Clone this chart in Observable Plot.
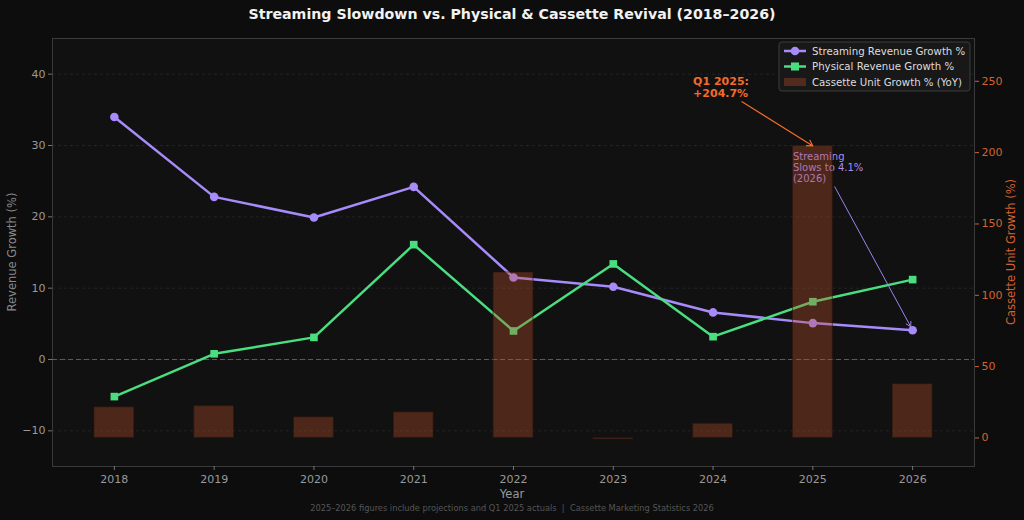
<!DOCTYPE html>
<html>
<head>
<meta charset="utf-8">
<script src="https://cdn.jsdelivr.net/npm/d3@7"></script>
<script src="https://cdn.jsdelivr.net/npm/@observablehq/plot@0.6"></script>
<style>
  html, body { margin: 0; padding: 0; background: #0d0d0d; }
  #chart svg { display: block; }
</style>
</head>
<body>
<div id="chart"></div>
<script>
// ---- data ----
const years = [2018, 2019, 2020, 2021, 2022, 2023, 2024, 2025, 2026];
const streamingGrowth = [34.0, 22.8, 19.9, 24.2, 11.5, 10.2, 6.6, 5.1, 4.1];
const physicalGrowth = [-5.2, 0.8, 3.1, 16.1, 4.0, 13.4, 3.2, 8.1, 11.2];
const cassetteGrowth = [21.5, 22.3, 14.5, 18.0, 116.0, -1.0, 10.0, 204.7, 37.7];

const leftTicks = [-10, 0, 10, 20, 30, 40];
const rightTicks = [0, 50, 100, 150, 200, 250];
const yearTicks = years;

const leftDomain = [-15, 45];
const rightDomain = [-20, 280];
const xDomain = [2017.38, 2026.62];
const barHalfWidth = 0.2;

// annotation anchors (x in years, y in the units of the axis named)
const q1Note = {text: "Q1 2025:\n+204.7%", x: 2023.8, yRight: 246, fromX: 2024.29, fromYRight: 235.7, toX: 2025, toYRight: 204.7};
const slowNote = {text: "Streaming\nSlows to 4.1%\n(2026)", x: 2024.8, y: 29.0, fromX: 2025.22, fromY: 24.2, toX: 2026, toY: 4.1};

// colours
const bg = "#0d0d0d", panel = "#111111";
const purple = "#a78bfa", green = "#4ade80", orange = "#f26b2c", orangeAxis = "#d4622e";
const barFill = "#c2522b";

// map a right-axis value onto the left-axis scale (shared y scale)
const k = (leftDomain[1] - leftDomain[0]) / (rightDomain[1] - rightDomain[0]);
const toLeft = v => leftDomain[0] + (v - rightDomain[0]) * k;
const fromLeft = v => rightDomain[0] + (v - leftDomain[0]) / k;

const series = years.map((year, i) => ({
  year, streaming: streamingGrowth[i], physical: physicalGrowth[i], cassette: cassetteGrowth[i]
}));

const font = "DejaVu Sans, Verdana, sans-serif";

const chart = Plot.plot({
  width: 1024,
  height: 520,
  marginLeft: 52,
  marginRight: 50,
  marginTop: 38,
  marginBottom: 54,
  style: {background: bg, fontFamily: font, fontSize: "11px", color: "#9a9a9a"},
  x: {type: "linear", domain: xDomain, axis: null},
  y: {domain: leftDomain, axis: null},
  marks: [
    Plot.frame({fill: panel, stroke: "#3a3a3a"}),
    Plot.gridY(leftTicks, {stroke: "#3a3a3a", strokeOpacity: 0.45, strokeDasharray: "3,3"}),
    Plot.ruleY([0], {stroke: "#6a6a6a", strokeOpacity: 0.8, strokeDasharray: "5,3", strokeWidth: 1}),
    Plot.axisY(leftTicks, {anchor: "left", tickSize: 4, tickPadding: 3, stroke: "#777", color: "#9a9a9a", label: null, fontSize: 11}),
    Plot.axisY(rightTicks.map(toLeft), {anchor: "right", tickSize: 4, tickPadding: 3, stroke: orangeAxis, color: orangeAxis, label: null, fontSize: 11,
      tickFormat: d => String(Math.round(fromLeft(d)))}),
    Plot.axisX(yearTicks, {anchor: "bottom", tickSize: 4, tickPadding: 5, stroke: "#777", color: "#9a9a9a", label: null, fontSize: 11,
      tickFormat: d => String(d)}),
    // revenue lines
    Plot.line(series, {x: "year", y: "streaming", stroke: purple, strokeWidth: 2.5}),
    Plot.dot(series, {x: "year", y: "streaming", fill: purple, r: 4.3}),
    Plot.line(series, {x: "year", y: "physical", stroke: green, strokeWidth: 2.5}),
    Plot.dot(series, {x: "year", y: "physical", fill: green, symbol: "square", r: 4.3}),
    // streaming slowdown note
    Plot.text([slowNote], {x: "x", y: "y", text: "text", textAnchor: "start", lineAnchor: "top", lineHeight: 1.1,
      fill: "#a98cf0", fontSize: 10}),
    Plot.arrow([slowNote], {x1: "fromX", y1: "fromY", x2: "toX", y2: "toY", stroke: "#9d85ef", strokeWidth: 1, headLength: 8, insetEnd: 4}),
    // cassette unit growth bars on the right-axis scale
    Plot.rect(series, {x1: d => d.year - barHalfWidth, x2: d => d.year + barHalfWidth,
      y1: () => toLeft(0), y2: d => toLeft(d.cassette), fill: barFill, fillOpacity: 0.34,
      stroke: "#2a140c", strokeOpacity: 0.6, strokeWidth: 1}),
    // Q1 2025 cassette note
    Plot.text([q1Note], {x: "x", y: d => toLeft(d.yRight), text: "text", textAnchor: "start", lineAnchor: "middle", lineHeight: 1.1,
      fill: orange, fontSize: 11, fontWeight: "bold"}),
    Plot.arrow([q1Note], {x1: "fromX", y1: d => toLeft(d.fromYRight), x2: "toX", y2: d => toLeft(d.toYRight),
      stroke: orange, strokeWidth: 1.2, headLength: 8})
  ]
});

const svg = d3.select(chart);

// title
svg.append("text").attr("x", 512).attr("y", 19).attr("text-anchor", "middle")
  .attr("font-family", font).attr("font-size", 14.2).attr("font-weight", "bold").attr("fill", "#f2f2f2")
  .text("Streaming Slowdown vs. Physical & Cassette Revival (2018–2026)");

// axis titles
svg.append("text").attr("x", 512).attr("y", 498).attr("text-anchor", "middle")
  .attr("font-family", font).attr("font-size", 11.5).attr("fill", "#9a9a9a").text("Year");
svg.append("text").attr("transform", "translate(16,252) rotate(-90)").attr("text-anchor", "middle")
  .attr("font-family", font).attr("font-size", 11.5).attr("fill", "#8a8a8a").text("Revenue Growth (%)");
svg.append("text").attr("transform", "translate(1015,252) rotate(-90)").attr("text-anchor", "middle")
  .attr("font-family", font).attr("font-size", 11.5).attr("fill", orangeAxis).text("Cassette Unit Growth (%)");

// caption
svg.append("text").attr("x", 512).attr("y", 511).attr("text-anchor", "middle")
  .attr("font-family", "DejaVu Sans Condensed, DejaVu Sans, sans-serif").attr("font-stretch", "condensed")
  .attr("font-size", 9.2).attr("fill", "#555").text("2025–2026 figures include projections and Q1 2025 actuals  |  Cassette Marketing Statistics 2026");

// legend
const legend = svg.append("g").attr("font-family", font).attr("font-size", 10.2).attr("text-anchor", "start");
legend.append("rect").attr("x", 779).attr("y", 42).attr("width", 191).attr("height", 49).attr("rx", 3)
  .attr("fill", "#181818").attr("stroke", "#3c3c3c");
const rows = [
  {label: "Streaming Revenue Growth %", kind: "circle", color: purple},
  {label: "Physical Revenue Growth %", kind: "square", color: green},
  {label: "Cassette Unit Growth % (YoY)", kind: "bar", color: barFill}
];
rows.forEach((r, i) => {
  const cy = 51 + i * 15.5;
  if (r.kind === "bar") {
    legend.append("rect").attr("x", 784).attr("y", cy - 4).attr("width", 22).attr("height", 8)
      .attr("fill", r.color).attr("fill-opacity", 0.34);
  } else {
    legend.append("line").attr("x1", 784).attr("x2", 806).attr("y1", cy).attr("y2", cy)
      .attr("stroke", r.color).attr("stroke-width", 2.5);
    if (r.kind === "circle") legend.append("circle").attr("cx", 795).attr("cy", cy).attr("r", 4.3).attr("fill", r.color);
    else legend.append("rect").attr("x", 791).attr("y", cy - 4).attr("width", 8).attr("height", 8).attr("fill", r.color);
  }
  legend.append("text").attr("x", 812).attr("y", cy).attr("dy", "0.35em").attr("fill", "#dddddd").text(r.label);
});

document.getElementById("chart").appendChild(chart);
</script>
</body>
</html>
